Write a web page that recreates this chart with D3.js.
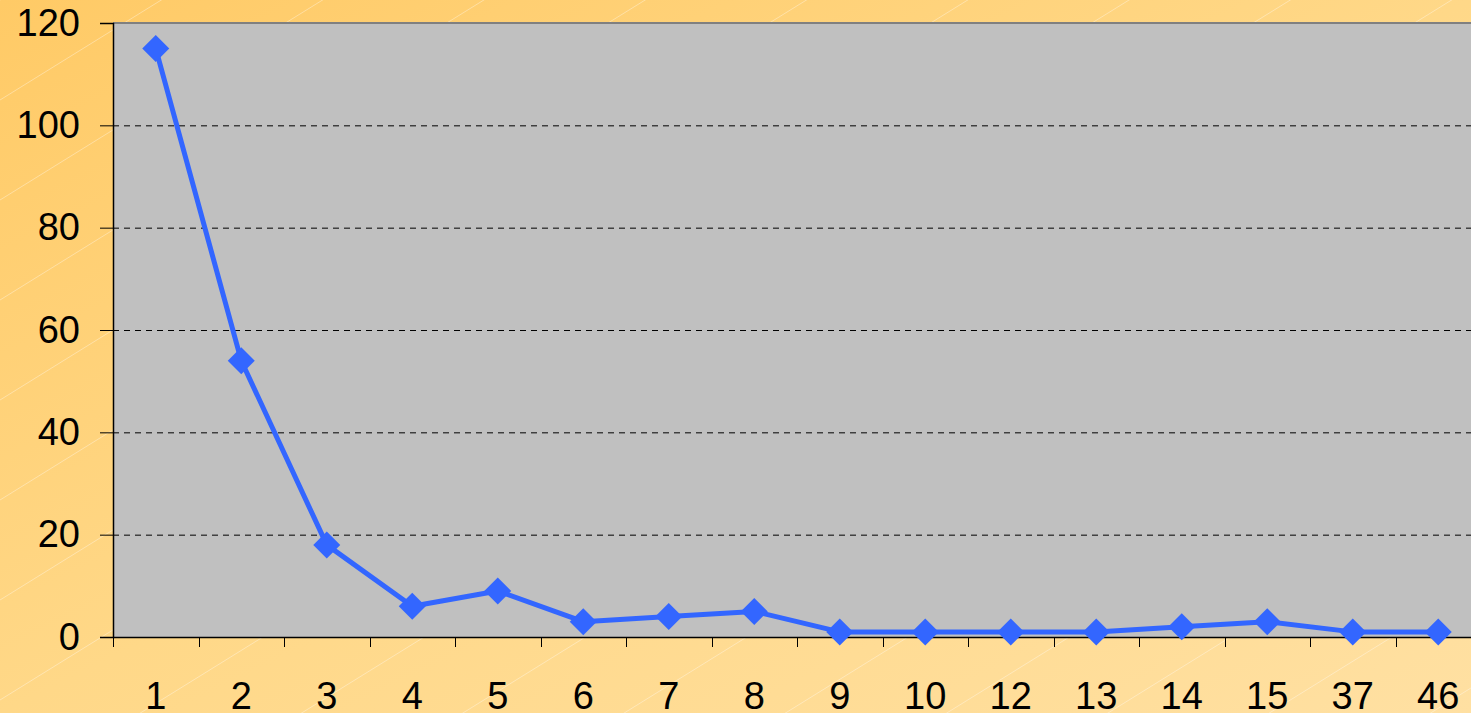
<!DOCTYPE html>
<html><head><meta charset="utf-8">
<script src="https://cdn.jsdelivr.net/npm/d3@7"></script>
<style>html,body{margin:0;padding:0;overflow:hidden;background:#FFD680}</style>
</head><body>
<svg id="c" width="1471" height="713"></svg>
<script>
const categories = ["1","2","3","4","5","6","7","8","9","10","12","13","14","15","37","46"];
const values = [115,54,18,6,9,3,4,5,1,1,1,1,2,3,1,1];
const yTicks = [0,20,40,60,80,100,120];

const W=1471,H=713;
const m={left:113,top:23,bottom:76};
const plotRight=1481;
const svg=d3.select("#c");
const defs=svg.append("defs");
const g1=defs.append("linearGradient").attr("id","bg").attr("x1","0").attr("y1","0").attr("x2","1").attr("y2","1");
g1.append("stop").attr("offset","0").attr("stop-color","#FFCA66");
g1.append("stop").attr("offset","0.5").attr("stop-color","#FFD888");
g1.append("stop").attr("offset","1").attr("stop-color","#FFE0A2");
svg.append("rect").attr("width",W).attr("height",H).attr("fill","url(#bg)");
const pat=svg.append("g").attr("stroke","#FFFFFF").attr("stroke-opacity",0.35).attr("stroke-width",1);
for(let k=-20;k<30;k++){
  const y0=k*100;
  pat.append("line").attr("x1",0).attr("y1",y0).attr("x2",W).attr("y2",y0-W*0.62);
}

const x=d3.scaleBand().domain(categories).range([m.left,plotRight]).padding(0);
const y=d3.scaleLinear().domain([0,120]).range([H-m.bottom,m.top]);

svg.append("rect").attr("x",m.left).attr("y",m.top).attr("width",plotRight-m.left).attr("height",y(0)-m.top).attr("fill","#C0C0C0");

svg.append("g").selectAll("line").data(yTicks.filter(d=>d>0&&d<120)).join("line")
  .attr("x1",m.left).attr("x2",W).attr("y1",d=>y(d)+0.5).attr("y2",d=>y(d)+0.5)
  .attr("stroke","#000").attr("stroke-width",1).attr("stroke-dasharray","6,5");
svg.append("line").attr("x1",m.left).attr("x2",W).attr("y1",y(120)).attr("y2",y(120)).attr("stroke","#808080").attr("stroke-width",2);

const ya=svg.append("g").attr("transform",`translate(${m.left},0)`)
  .call(d3.axisLeft(y).tickValues(yTicks).tickSize(13).tickPadding(20));
ya.select(".domain").attr("stroke","#000").attr("stroke-width",1.5);
ya.selectAll(".tick line").attr("stroke","#000");
ya.selectAll("text").attr("font-family","Liberation Sans, Arial, sans-serif").attr("font-size",38).attr("fill","#000");

const xa=svg.append("g").attr("transform",`translate(0,${y(0)})`)
  .call(d3.axisBottom(x).tickSize(0).tickPadding(45));
xa.select(".domain").attr("stroke","#000").attr("stroke-width",1.5);
xa.selectAll("text").attr("font-family","Liberation Sans, Arial, sans-serif").attr("font-size",38).attr("fill","#000");
svg.append("g").selectAll("line").data(categories).join("line")
  .attr("x1",d=>Math.round(x(d))+0.5).attr("x2",d=>Math.round(x(d))+0.5)
  .attr("y1",y(0)).attr("y2",y(0)+10).attr("stroke","#000").attr("stroke-width",1);

const cx=d=>x(d)+x.bandwidth()/2;
svg.append("path").datum(values.map((v,i)=>[categories[i],v]))
  .attr("d",d3.line().x(d=>cx(d[0])).y(d=>y(d[1])))
  .attr("fill","none").attr("stroke","#3366FF").attr("stroke-width",5).attr("stroke-linejoin","round");
svg.append("g").selectAll("path").data(values.map((v,i)=>[categories[i],v])).join("path")
  .attr("transform",d=>`translate(${cx(d[0])},${y(d[1])})`)
  .attr("d","M0,-13.5L13.5,0L0,13.5L-13.5,0Z").attr("fill","#3366FF");
</script>
</body></html>
